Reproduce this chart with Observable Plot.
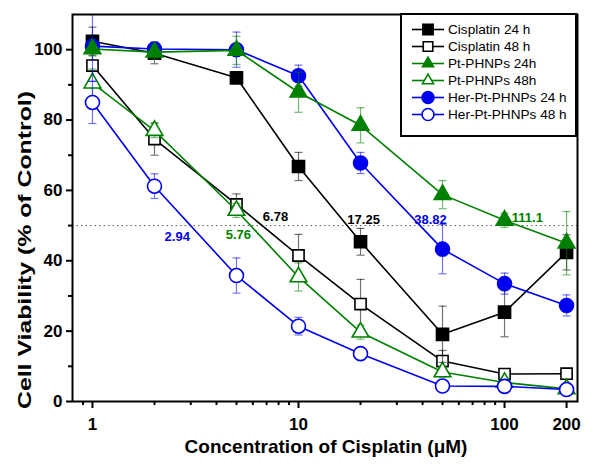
<!DOCTYPE html>
<html><head><meta charset="utf-8">
<script src="https://cdn.jsdelivr.net/npm/d3@7"></script>
<script src="https://cdn.jsdelivr.net/npm/@observablehq/plot@0.6"></script>
<style>
body{margin:0;background:#fff;font-family:"Liberation Sans",Arial,sans-serif;}
#wrap{position:relative;width:601px;height:464px;}
#legend{position:absolute;left:400px;top:13px;width:173px;height:114px;border:2px solid #000;background:#fff;box-sizing:content-box;padding-top:6px;}
.row{height:17px;display:flex;align-items:center;font-size:13.6px;color:#000;}
.row svg{margin-left:8px;margin-right:2px;flex:none;}
</style>
</head><body>
<div id="wrap"><div id="chart"></div><div id="legend"></div></div>
<script>
// ---- data ----
const concentrations = [1, 2, 5, 10, 20, 50, 100, 200];
const seriesNames = ["Cisplatin 24 h", "Cisplatin 48 h", "Pt-PHNPs 24h", "Pt-PHNPs 48h", "Her-Pt-PHNPs 24 h", "Her-Pt-PHNPs 48 h"];
const cisplatin24 = [102.4, 99, 92, 66.8, 45.4, 19.1, 25.4, 42.4];
const cisplatin48 = [95.5, 74.6, 56, 41.5, 27.7, 11.5, 7.8, 7.9];
const pt24 = [100.2, 99.3, 99.8, 87.9, 78.5, 58.8, 51.5, 45];
const pt48 = [90.5, 77, 54.3, 35.4, 19.7, 8.4, 5.4, 3.6];
const her24 = [101, 100.2, 100, 92.6, 67.8, 43.3, 33.5, 27.3];
const her48 = [85, 61.2, 35.8, 21.4, 13.6, 4.4, 4.3, 3.4];
const cisplatin24Err = [4, 3, 1.5, 4, 3.8, 8, 7, 5];
const cisplatin48Err = [4, 4.6, 3, 6, 7, 3, 1.5, 1.5];
const pt24Err = [2, 2, 4, 5.7, 5, 4, 2, 9];
const pt48Err = [4, 2, 2, 4, 2, 1.5, 1, 1];
const her24Err = [10, 2, 5, 3, 3, 7, 3, 3];
const her48Err = [6, 3.5, 5, 2.5, 1.5, 1, 1, 1];
const ic50Labels = ["2.94", "5.76", "6.78", "17.25", "38.82", "111.1"];
const ic50LabelX = [2.58, 5.11, 7.73, 20.7, 43.7, 129];
const ic50LabelY = [46.8, 47.4, 52.6, 51.7, 51.5, 52.2];
const yTicks = [0, 20, 40, 60, 80, 100];
const yMinorTicks = [10, 30, 50, 70, 90];
const xTicks = [1, 10, 100, 200];
const xMinorTicks = [0.9, 2, 3, 4, 5, 6, 7, 8, 9, 20, 30, 40, 50, 60, 70, 80, 90];
const xTitle = "Concentration of Cisplatin (μM)";
const yTitle = "Cell Viability (% of Control)";

// ---- styles ----
const BLACK = "#000000", GREEN = "#008000", BLUE = "#0000f0";
const seriesStyle = [
  {values: cisplatin24, err: cisplatin24Err, color: BLACK, symbol: "square", filled: true, r: 6.8},
  {values: cisplatin48, err: cisplatin48Err, color: BLACK, symbol: "square", filled: false, r: 6.3},
  {values: pt24, err: pt24Err, color: GREEN, symbol: "triangle", filled: true, r: 6.2},
  {values: pt48, err: pt48Err, color: GREEN, symbol: "triangle", filled: false, r: 6.2},
  {values: her24, err: her24Err, color: BLUE, symbol: "circle", filled: true, r: 7},
  {values: her48, err: her48Err, color: BLUE, symbol: "circle", filled: false, r: 7}
];
const ic50Colors = [BLUE, GREEN, BLACK, BLACK, BLUE, GREEN];
const drawOrder = [1, 3, 5, 0, 4, 2];

const cap = {draw(ctx, size) { const w = Math.sqrt(size / Math.PI); ctx.moveTo(-w, 0); ctx.lineTo(w, 0); }};

const marks = [Plot.ruleY([50], {stroke: "#555", strokeDasharray: "1.5,3", strokeWidth: 1})];
for (const k of drawOrder) {
  const s = seriesStyle[k];
  const rows = concentrations.map((x, i) => ({x, y: s.values[i], lo: s.values[i] - s.err[i], hi: s.values[i] + s.err[i]}));
  marks.push(
    Plot.ruleX(rows, {x: "x", y1: "lo", y2: "hi", stroke: s.color, strokeOpacity: 0.55, strokeWidth: 1.2, clip: true}),
    Plot.dot(rows, {x: "x", y: "lo", symbol: cap, r: 4, stroke: s.color, strokeOpacity: 0.55, strokeWidth: 1.2, clip: true}),
    Plot.dot(rows, {x: "x", y: "hi", symbol: cap, r: 4, stroke: s.color, strokeOpacity: 0.55, strokeWidth: 1.2, clip: true}),
    Plot.line(rows, {x: "x", y: "y", stroke: s.color, strokeWidth: 1.6}),
    Plot.dot(rows, {x: "x", y: "y", symbol: s.symbol, r: s.r, fill: s.filled ? s.color : "white", stroke: s.color, strokeWidth: 1.6})
  );
}
const ann = ic50Labels.map((t, i) => ({t, x: ic50LabelX[i], y: ic50LabelY[i], c: ic50Colors[i]}));
marks.push(
  Plot.text(ann, {x: "x", y: "y", text: "t", fill: "c", fontSize: 13, fontWeight: "bold"}),
  Plot.frame({stroke: "#000", strokeWidth: 2}),
  Plot.axisY({ticks: yTicks, tickSize: 6, tickPadding: 4, strokeWidth: 2, fontSize: 17, fontWeight: "bold", label: null}),
  Plot.axisY({ticks: yMinorTicks, tickSize: 4, strokeWidth: 2, tickFormat: () => "", label: null}),
  Plot.axisX({ticks: xTicks, tickFormat: d => String(d), tickSize: 7, tickPadding: 9, strokeWidth: 2, fontSize: 17, fontWeight: "bold", label: null}),
  Plot.axisX({ticks: xMinorTicks, tickSize: 4, strokeWidth: 2, tickFormat: () => "", label: null})
);

const chart = Plot.plot({
  width: 601, height: 464,
  marginLeft: 72, marginRight: 24, marginTop: 14, marginBottom: 63,
  x: {type: "log", domain: [0.8, 226]},
  y: {domain: [0, 110]},
  style: {fontFamily: "Liberation Sans, Arial, sans-serif", color: "#000", background: "#fff"},
  marks
});
document.getElementById("chart").appendChild(chart);

// ---- axis titles ----
const svgSel = d3.select(chart);
svgSel.append("text").text(yTitle)
  .attr("transform", "translate(24,250) rotate(-90)")
  .attr("text-anchor", "middle").attr("dominant-baseline", "central")
  .attr("font-size", 19).attr("font-weight", "bold").attr("fill", "#000")
  .attr("textLength", 318).attr("lengthAdjust", "spacingAndGlyphs");
svgSel.append("text").text(xTitle)
  .attr("transform", "translate(326,446)")
  .attr("text-anchor", "middle").attr("dominant-baseline", "central")
  .attr("font-size", 19).attr("font-weight", "bold").attr("fill", "#000");

// ---- legend ----
const legend = d3.select("#legend");
const symMap = {square: d3.symbolSquare, triangle: d3.symbolTriangle2, circle: d3.symbolCircle};
seriesNames.forEach((name, i) => {
  const s = seriesStyle[i];
  const row = legend.append("div").attr("class", "row");
  const svg = row.append("svg").attr("width", 36).attr("height", 17);
  svg.append("line").attr("x1", 2).attr("x2", 34).attr("y1", 8.5).attr("y2", 8.5).attr("stroke", s.color).attr("stroke-width", 1.6);
  svg.append("path").attr("transform", "translate(18,8.5)")
    .attr("d", d3.symbol(symMap[s.symbol], Math.PI * (s.r * 0.85) ** 2)())
    .attr("fill", s.filled ? s.color : "white").attr("stroke", s.color).attr("stroke-width", 1.6);
  row.append("span").text(name);
});
</script>
</body></html>
